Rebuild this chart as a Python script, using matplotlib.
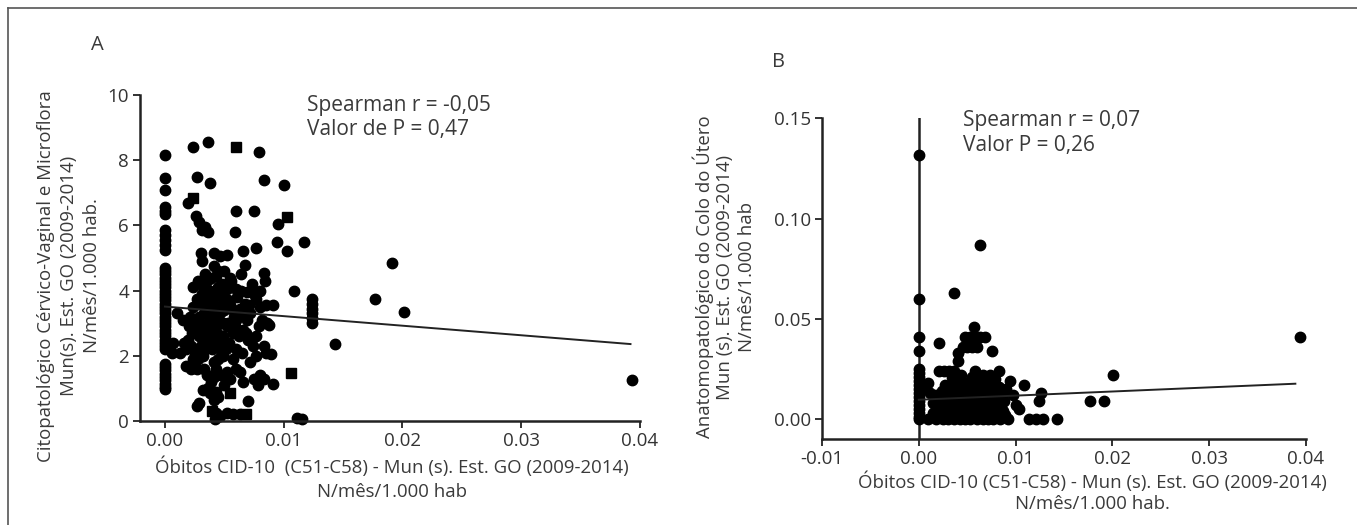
"""Two Spearman scatter panels: citopatologico / anatomopatologico vs obitos."""

import matplotlib

matplotlib.use("Agg")
import matplotlib.pyplot as plt  # noqa: E402
from matplotlib.lines import Line2D  # noqa: E402

plt.rcParams["font.family"] = ["Open Sans", "DejaVu Sans"]

# ---- panel A data ------------------------------------------------------
a_zero_y = [8.15, 7.45, 7.1, 6.55, 6.45, 6.35, 5.85, 5.7, 5.55, 5.4, 5.25,
            4.7, 4.6, 4.5, 4.4, 4.3, 4.2, 4.1, 4.0, 3.9, 3.8, 3.7, 3.6, 3.5,
            3.4, 3.3, 3.2, 3.1, 3.0, 2.9, 2.8, 2.7, 2.6, 2.5, 2.4, 2.3, 2.2,
            1.75, 1.65, 1.55, 1.45, 1.35, 1.25, 1.15, 1.05, 0.98]

a_x = [0.0024, 0.0036, 0.0079, 0.0027, 0.0038, 0.0083, 0.0100, 0.0019, 0.0060,
       0.0075, 0.0095, 0.0026, 0.0029, 0.0031, 0.0034, 0.0036, 0.0059, 0.0094,
       0.0117, 0.0103, 0.0030, 0.0066, 0.0077, 0.0109, 0.0191, 0.0177, 0.0201,
       0.0143, 0.0393, 0.0111, 0.0115, 0.0070, 0.0091, 0.0089, 0.0088, 0.0091,
       0.0124, 0.0124, 0.0124, 0.0124, 0.0124, 0.0124,
       0.0031, 0.0041, 0.0046, 0.0052, 0.0067, 0.0083, 0.0084, 0.0041, 0.0043,
       0.0045, 0.0032, 0.0024, 0.0027, 0.0035, 0.0043, 0.0052, 0.0060, 0.0069,
       0.0077, 0.0085, 0.0071, 0.0063, 0.0055, 0.0046, 0.0038, 0.0029, 0.0021,
       0.0015, 0.0010, 0.0007, 0.0013, 0.0018, 0.0027, 0.0035, 0.0043, 0.0052,
       0.0060, 0.0069, 0.0032, 0.0041, 0.0049, 0.0057, 0.0066, 0.0077, 0.0074,
       0.0083, 0.0077, 0.0024, 0.0032, 0.0041, 0.0049, 0.0057, 0.0018, 0.0027,
       0.0043, 0.0052, 0.0063, 0.0035, 0.0041, 0.0080, 0.0083, 0.0032, 0.0038,
       0.0043, 0.0036, 0.0029, 0.0027, 0.0043, 0.0042, 0.0046, 0.0052, 0.0057,
       0.0063,
       0.0030, 0.0033, 0.0036, 0.0039, 0.0040, 0.0044, 0.0047, 0.0048, 0.0050,
       0.0053, 0.0056, 0.0058, 0.0061, 0.0064, 0.0067, 0.0072, 0.0075, 0.0080,
       0.0082, 0.0028, 0.0034, 0.0038, 0.0045, 0.0050, 0.0055, 0.0024, 0.0019,
       0.0022, 0.0025, 0.0030, 0.0034, 0.0038, 0.0046, 0.0054, 0.0060, 0.0065,
       0.0070, 0.0072, 0.0045, 0.0047, 0.0050, 0.0055, 0.0060, 0.0066, 0.0075,
       0.0085, 0.0086, 0.0040, 0.0028, 0.0022, 0.0016, 0.0035, 0.0042, 0.0037,
       0.0049, 0.0064, 0.0059, 0.0068, 0.0079, 0.0044, 0.0033, 0.0039, 0.0045,
       0.0041, 0.0064, 0.0073, 0.0080, 0.0078,
       0.0031, 0.0034, 0.0037, 0.0040, 0.0043, 0.0046, 0.0049, 0.0033, 0.0036,
       0.0039, 0.0042, 0.0045, 0.0048, 0.0051, 0.0026, 0.0029, 0.0053, 0.0057,
       0.0062, 0.0020, 0.0023, 0.0004, 0.0006, 0.0035, 0.0039]
a_y = [8.4, 8.55, 8.25, 7.5, 7.3, 7.4, 7.25, 6.7, 6.45,
       6.45, 6.05, 6.3, 6.1, 5.85, 5.95, 5.8, 5.8, 5.5,
       5.5, 5.2, 5.15, 5.2, 5.3, 4.0, 4.85, 3.75, 3.35,
       2.35, 1.27, 0.1, 0.05, 0.6, 1.15, 2.05, 2.95, 3.55,
       3.75, 3.6, 3.45, 3.3, 3.15, 3.0,
       4.9, 5.15, 5.05, 5.1, 4.8, 4.55, 4.3, 4.75, 4.45,
       4.6, 4.15, 4.1, 3.75, 3.85, 3.95, 4.05, 4.05, 3.95,
       3.75, 3.55, 3.55, 3.45, 3.55, 3.3, 3.45, 3.2, 3.2,
       3.1, 3.3, 2.4, 2.1, 2.2, 2.8, 2.7, 2.9, 2.9,
       3.1, 3.1, 2.5, 2.4, 2.6, 2.7, 2.8, 2.6, 2.3,
       2.3, 2.0, 1.9, 2.0, 1.8, 2.0, 1.9, 1.7, 1.6,
       1.6, 1.5, 1.5, 1.4, 1.35, 1.4, 1.3, 0.95, 0.85,
       0.9, 1.0, 0.55, 0.45, 0.25, 0.05, 0.15, 0.25, 0.2,
       0.2,
       3.6, 3.3, 3.0, 3.2, 3.7, 3.5, 3.8, 4.2, 3.4,
       3.7, 4.3, 3.2, 3.8, 4.5, 3.6, 3.3, 3.9, 3.5,
       3.1, 4.3, 4.5, 4.0, 4.1, 4.6, 4.4, 3.5, 2.5,
       2.3, 2.1, 2.3, 2.2, 2.6, 2.2, 2.4, 2.2, 2.1,
       2.5, 1.8, 1.9, 1.4, 1.1, 1.3, 1.6, 1.2, 1.3,
       2.1, 3.0, 2.2, 1.9, 1.6, 2.4, 4.3, 3.1, 3.6,
       3.0, 3.3, 2.9, 2.7, 2.9, 2.7, 1.6, 1.2, 0.75,
       0.65, 4.0, 4.2, 4.0, 1.1,
       3.9, 3.5, 3.3, 3.9, 3.2, 3.9, 3.5, 2.9, 2.5,
       2.9, 2.7, 2.4, 2.5, 2.2, 3.0, 2.6, 3.0, 3.4,
       2.6, 2.9, 2.7, 2.3, 2.1, 3.6, 4.4]

a_sq_x = [0.0060, 0.0024, 0.0103, 0.0106, 0.0055, 0.0040, 0.0068]
a_sq_y = [8.4, 6.85, 6.25, 1.48, 0.85, 0.3, 0.2]

a_fit_x = [0.0, 0.0392]
a_fit_y = [3.51, 2.36]

a_xticks = [0.00, 0.01, 0.02, 0.03, 0.04]
a_yticks = [0, 2, 4, 6, 8, 10]

# ---- panel B data ------------------------------------------------------
b_zero_y = [0.132, 0.060, 0.041, 0.034, 0.025, 0.023, 0.021, 0.019, 0.017,
            0.015, 0.013, 0.011, 0.009, 0.007, 0.005, 0.003, 0.001, 0.0]

b_x = [0.0063, 0.0036, 0.0057, 0.0048, 0.0053, 0.0058, 0.0063, 0.0068, 0.0021,
       0.0076, 0.0046, 0.0050, 0.0055, 0.0060, 0.0041, 0.0040, 0.0021, 0.0026,
       0.0031, 0.0036, 0.0083, 0.0201, 0.0394, 0.0177, 0.0191, 0.0143, 0.0114,
       0.0121, 0.0128, 0.0126, 0.0124, 0.0109, 0.0094, 0.0104, 0.0092, 0.0005,
       0.0015, 0.0015, 0.0018, 0.0018, 0.0020, 0.0022, 0.0022, 0.0024, 0.0025,
       0.0026, 0.0028, 0.0029, 0.0030, 0.0031, 0.0032, 0.0033, 0.0034, 0.0035,
       0.0036, 0.0036, 0.0038, 0.0038, 0.0040, 0.0040, 0.0041, 0.0042, 0.0043,
       0.0044, 0.0045, 0.0046, 0.0047, 0.0048, 0.0048, 0.0050, 0.0050, 0.0051,
       0.0052, 0.0053, 0.0054, 0.0055, 0.0056, 0.0057, 0.0058, 0.0059, 0.0060,
       0.0061, 0.0062, 0.0063, 0.0064, 0.0065, 0.0066, 0.0067, 0.0068, 0.0069,
       0.0070, 0.0071, 0.0072, 0.0073, 0.0074, 0.0075, 0.0076, 0.0077, 0.0078,
       0.0079, 0.0080, 0.0081, 0.0082, 0.0083, 0.0084, 0.0085, 0.0086, 0.0088,
       0.0089, 0.0090, 0.0010, 0.0012, 0.0027, 0.0034, 0.0044, 0.0058, 0.0066,
       0.0074, 0.0097, 0.0100, 0.0087, 0.0009]
b_y = [0.087, 0.063, 0.046, 0.041, 0.041, 0.041, 0.041, 0.041, 0.038,
       0.034, 0.036, 0.036, 0.036, 0.036, 0.033, 0.029, 0.024, 0.024,
       0.024, 0.024, 0.024, 0.022, 0.041, 0.009, 0.009, 0.0, 0.0,
       0.0, 0.0, 0.013, 0.009, 0.017, 0.019, 0.005, 0.0, 0.016,
       0.008, 0.003, 0.012, 0.0, 0.006, 0.010, 0.002, 0.014, 0.0,
       0.008, 0.004, 0.012, 0.0, 0.016, 0.007, 0.002, 0.011, 0.019,
       0.005, 0.0, 0.009, 0.014, 0.002, 0.020, 0.006, 0.012, 0.0,
       0.016, 0.009, 0.003, 0.013, 0.0, 0.007, 0.018, 0.010, 0.004,
       0.014, 0.0, 0.008, 0.021, 0.012, 0.003, 0.016, 0.007, 0.0,
       0.011, 0.019, 0.004, 0.014, 0.008, 0.0, 0.012, 0.017, 0.005,
       0.009, 0.0, 0.014, 0.003, 0.010, 0.018, 0.006, 0.0, 0.013,
       0.020, 0.008, 0.003, 0.011, 0.016, 0.0, 0.006, 0.012, 0.009,
       0.002, 0.015, 0.0, 0.013, 0.017, 0.021, 0.022, 0.024, 0.022,
       0.022, 0.012, 0.007, 0.004, 0.018]

b_fit_x = [0.0, 0.0389]
b_fit_y = [0.0096, 0.0176]

b_xticks = [-0.01, 0.00, 0.01, 0.02, 0.03, 0.04]
b_yticks = [0.00, 0.05, 0.10, 0.15]

W, H = 1357, 525
MS = 7.5
TXT = "#3a3a3a"
TICK_FS = 13.5
LAB_FS = 13.4
NOTE_FS = 15


def style(ax):
    for s in ("top", "right"):
        ax.spines[s].set_visible(False)
    for s in ("left", "bottom"):
        ax.spines[s].set_linewidth(1.8)
        ax.spines[s].set_color("#222222")
    ax.tick_params(direction="out", length=5, width=1.3, pad=3,
                   labelsize=TICK_FS, colors="#222222", labelcolor="#333333")
    ax.set_facecolor("none")


def ftext(x, y, s, **kw):
    # figure text placed by pixel position (from the top-left)
    kw.setdefault("fontsize", LAB_FS)
    kw.setdefault("color", TXT)
    fig.text(x / W, 1 - y / H, s, ha="center", va="center", **kw)


fig = plt.figure(figsize=(W / 100, H / 100), dpi=100)

# frame lines around the figure (top + left)
fig.add_artist(Line2D([8 / W, 1], [1 - 8 / H, 1 - 8 / H], color="#555555", lw=1.2))
fig.add_artist(Line2D([8 / W, 8 / W], [0, 1 - 8 / H], color="#555555", lw=1.2))

# ---- A ----
axA = fig.add_axes([140 / W, (H - 421) / H, 500 / W, 326 / H])
style(axA)
axA.plot([0.0] * len(a_zero_y), a_zero_y, "o", ms=MS, color="black", clip_on=False)
axA.plot(a_x, a_y, "o", ms=MS, color="black", clip_on=False)
axA.plot(a_sq_x, a_sq_y, "s", ms=MS - 1, color="black", clip_on=False)
axA.plot(a_fit_x, a_fit_y, color="#222222", lw=1.4)
axA.set_xlim(-0.0021, 0.04)
axA.set_ylim(0, 10)
axA.set_xticks(a_xticks, [f"{v:.2f}" for v in a_xticks])
axA.set_yticks(a_yticks, [str(v) for v in a_yticks])
axA.text(0.012, 9.69, "Spearman r = -0,05", fontsize=NOTE_FS, color=TXT, va="center")
axA.text(0.012, 8.93, "Valor de P = 0,47", fontsize=NOTE_FS, color=TXT, va="center")

ftext(97, 45, "A", fontsize=14.5)
ftext(46, 276, "Citopatológico Cérvico-Vaginal e Microflora", rotation=90)
ftext(69, 276, "Mun(s). Est. GO (2009-2014)", rotation=90)
ftext(92, 276, "N/mês/1.000 hab.", rotation=90)
ftext(392, 467, "Óbitos CID-10  (C51-C58) - Mun (s). Est. GO (2009-2014)")
ftext(392, 492, "N/mês/1.000 hab")

# ---- B ----
axB = fig.add_axes([822 / W, (H - 439) / H, 484 / W, 320.5 / H])
style(axB)
axB.axvline(0, ymin=0, ymax=1, color="#222222", lw=1.8)
axB.plot([0.0] * len(b_zero_y), b_zero_y, "o", ms=MS, color="black", clip_on=False)
axB.plot(b_x, b_y, "o", ms=MS, color="black", clip_on=False)
axB.plot(b_fit_x, b_fit_y, color="#222222", lw=1.4)
axB.set_xlim(-0.01, 0.04)
axB.set_ylim(-0.01, 0.15)
axB.set_xticks(b_xticks, [f"{v:.2f}" for v in b_xticks])
axB.set_yticks(b_yticks, [f"{v:.2f}" for v in b_yticks])
axB.text(0.0046, 0.1488, "Spearman r = 0,07", fontsize=NOTE_FS, color=TXT, va="center")
axB.text(0.0046, 0.1363, "Valor P = 0,26", fontsize=NOTE_FS, color=TXT, va="center")

ftext(779, 62, "B", fontsize=14.5)
ftext(703, 277, "Anatomopatológico do Colo do Útero", rotation=90)
ftext(725, 277, "Mun (s). Est. GO (2009-2014)", rotation=90)
ftext(747, 277, "N/mês/1.000 hab", rotation=90)
ftext(1092, 482, "Óbitos CID-10 (C51-C58) - Mun (s). Est. GO (2009-2014)")
ftext(1092, 504, "N/mês/1.000 hab.")

fig.savefig("out.png", dpi=100)
